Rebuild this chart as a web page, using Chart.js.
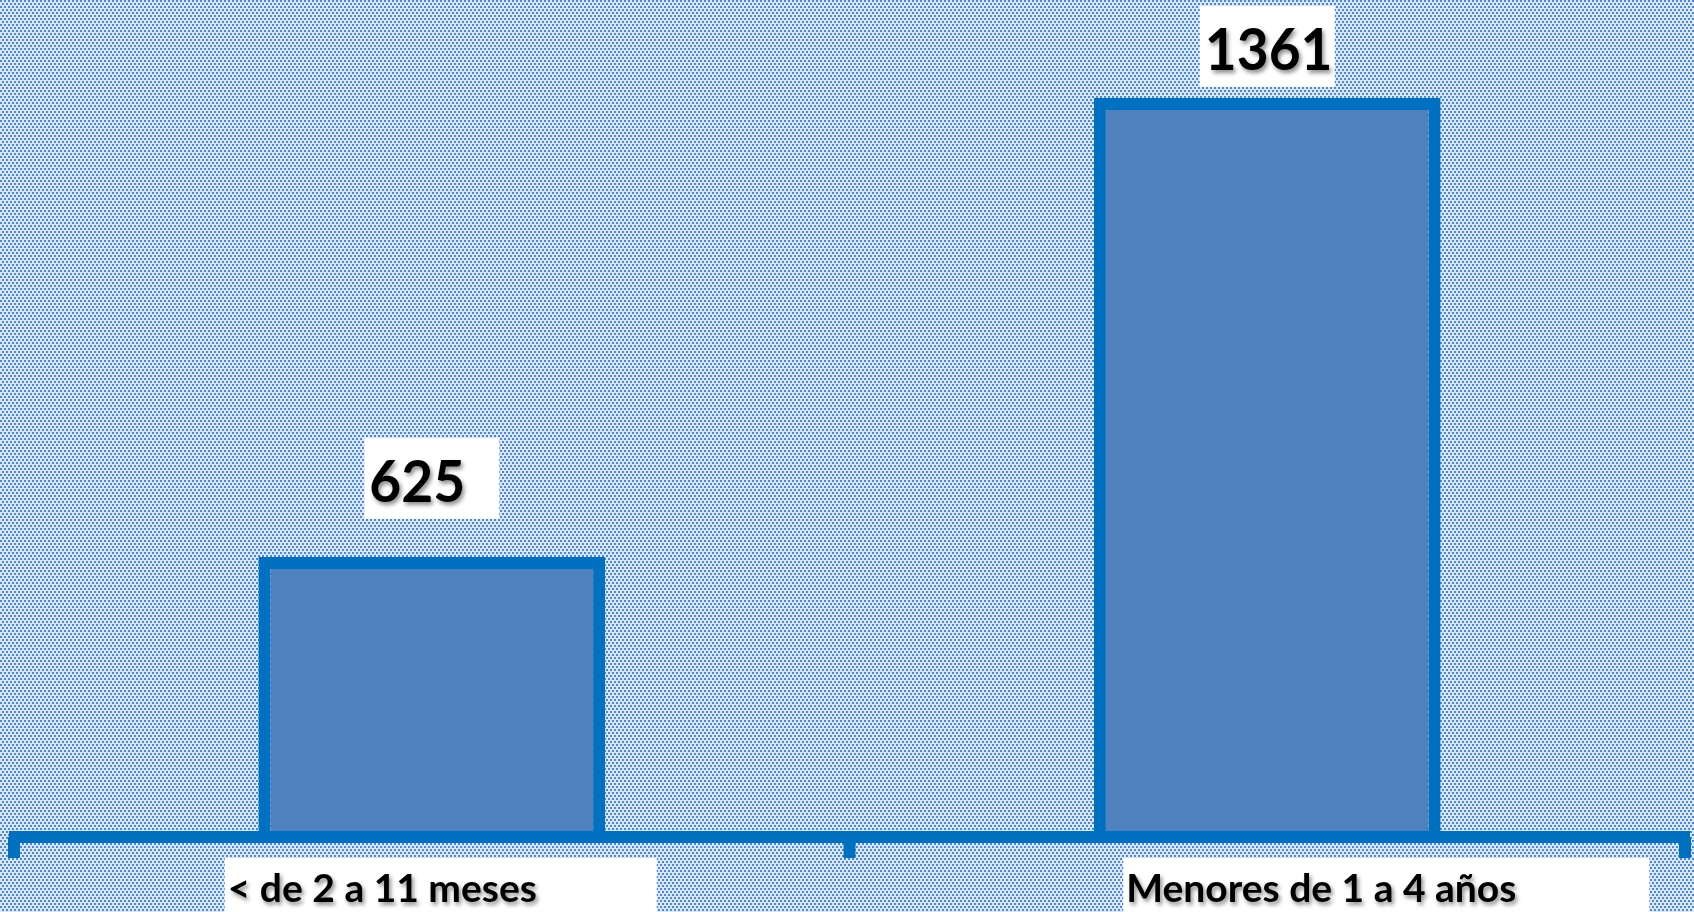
<!DOCTYPE html>
<html>
<head>
<meta charset="utf-8">
<script src="https://cdn.jsdelivr.net/npm/chart.js@4.4.0/dist/chart.umd.min.js"></script>
<style>
  html, body { margin: 0; padding: 0; background: #dce6f2; }
  #wrap { width: 1694px; height: 912px; }
</style>
</head>
<body>
<div id="wrap"><canvas id="myChart" width="1694" height="912"></canvas></div>
<script>
// data
const categories = ['< de 2 a 11 meses', 'Menores de 1 a 4 años'];
const values = [625, 1361];
// hidden value axis (does not start at zero in the original)
const yMin = 176;
const yMax = 1518;

const axisBlue = '#0070C0';
const barFill = '#4F81BD';

function makePattern(ctx) {
    const tile = document.createElement('canvas');
    tile.width = 4;
    tile.height = 6;
    const t = tile.getContext('2d');
    t.fillStyle = '#dce7f5';
    t.fillRect(0, 0, 4, 6);
    t.fillStyle = '#4a87e0';
    t.fillRect(0, 0, 2, 2);
    t.fillRect(2, 3, 2, 2);
    return ctx.createPattern(tile, 'repeat');
}

function shadowText(ctx, text, x, y, squeeze) {
    ctx.save();
    ctx.translate(x, y);
    ctx.scale(squeeze, 1);
    ctx.shadowColor = 'rgba(0,0,0,0.45)';
    ctx.shadowBlur = 4;
    ctx.shadowOffsetX = 2;
    ctx.shadowOffsetY = 3;
    ctx.fillStyle = '#000';
    ctx.fillText(text, 0, 0);
    ctx.restore();
}

const excelLook = {
    id: 'excelLook',
    beforeDraw(chart) {
        const ctx = chart.ctx;
        ctx.save();
        ctx.fillStyle = makePattern(ctx);
        ctx.fillRect(0, 0, chart.width, chart.height);
        ctx.restore();
    },
    afterDatasetsDraw(chart, args, opts) {
        const ctx = chart.ctx;
        const x = chart.scales.x;
        const area = chart.chartArea;
        const n = categories.length;
        const step = (x.right - x.left) / n;

        // axis line + tick marks at category boundaries
        ctx.save();
        ctx.fillStyle = axisBlue;
        ctx.fillRect(x.left - 5, area.bottom - 6, x.right - x.left + 10, 12);
        for (let i = 0; i <= n; i++) {
            const tx = x.left + i * step;
            ctx.fillRect(tx - 6, area.bottom, 12, 21);
        }
        ctx.restore();

        // value labels in white boxes
        const meta = chart.getDatasetMeta(0);
        ctx.save();
        ctx.font = 'bold 58px Lato';
        ctx.textBaseline = 'alphabetic';
        meta.data.forEach((bar, i) => {
            const bw = 135, bh = 81;
            const bx = bar.x - bw / 2;
            const by = bar.y - opts.valueBoxLift[i];
            ctx.fillStyle = '#fff';
            ctx.fillRect(bx, by, bw, bh);
            shadowText(ctx, String(values[i]), bx + 5, by + 64, 0.95);
        });
        ctx.restore();

        // category labels in white boxes
        ctx.save();
        ctx.font = 'bold 39px Lato';
        categories.forEach((c, i) => {
            const cx = x.getPixelForValue(i);
            const box = opts.catBoxes[i];
            const bx = cx + box.dx;
            const by = area.bottom + 21;
            ctx.fillStyle = '#fff';
            ctx.fillRect(bx, by, box.w, chart.height - by);
            shadowText(ctx, c, bx + 3, by + 44, 1);
        });
        ctx.restore();
    }
};

const ctx = document.getElementById('myChart');

const myChart = new Chart(ctx, {
    type: 'bar',
    data: {
        labels: categories,
        datasets: [{
            data: values,
            backgroundColor: barFill,
            borderColor: axisBlue,
            borderWidth: 12,
            borderSkipped: 'start',
            barPercentage: 0.415,
            categoryPercentage: 1
        }]
    },
    options: {
        responsive: false,
        animation: false,
        devicePixelRatio: 1,
        layout: { padding: { left: 14, right: 9, top: 0, bottom: 75 } },
        scales: {
            x: { display: false },
            y: { display: false, min: yMin, max: yMax }
        },
        plugins: {
            legend: { display: false },
            tooltip: { enabled: false },
            excelLook: {
                valueBoxLift: [119, 92],
                catBoxes: [{ dx: -207, w: 432 }, { dx: -144, w: 526 }]
            }
        }
    },
    plugins: [excelLook]
});
</script>
</body>
</html>
